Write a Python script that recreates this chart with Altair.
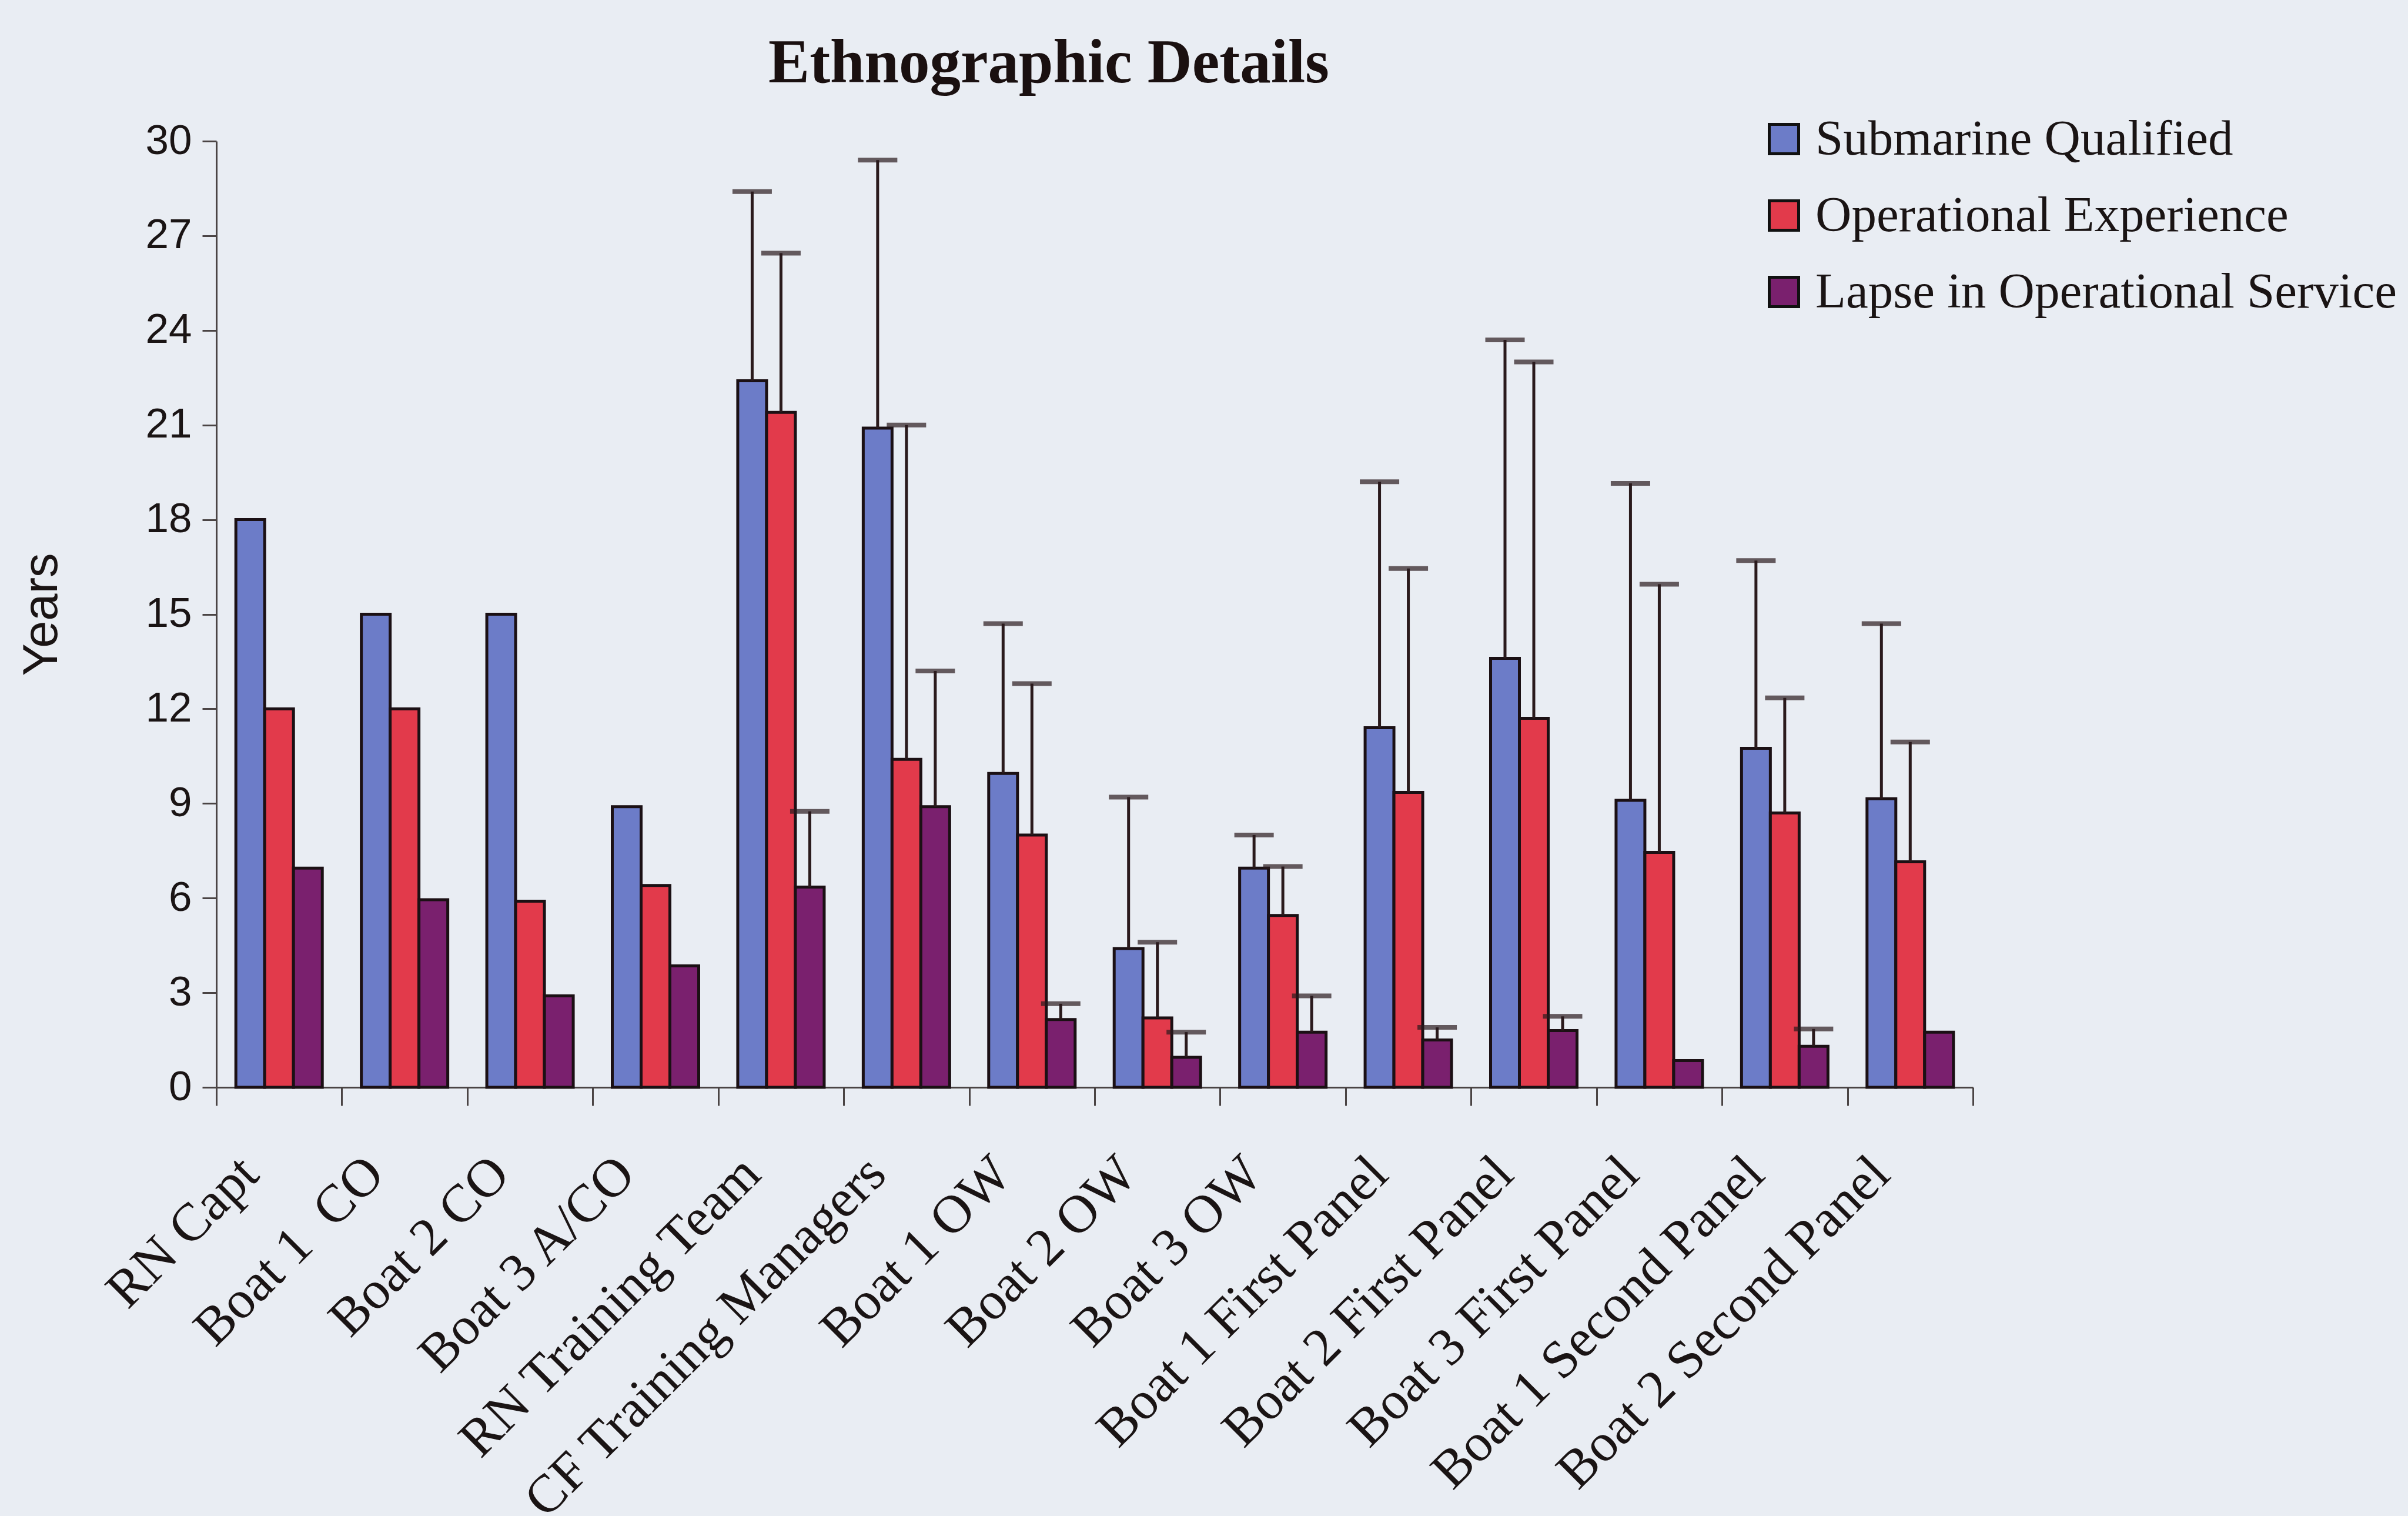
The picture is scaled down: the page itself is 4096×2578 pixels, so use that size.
import altair as alt
import pandas as pd

categories = ["RN Capt", "Boat 1\u00a0 CO", "Boat 2 CO", "Boat 3 A/CO", "RN Training Team",
              "CF Training Managers", "Boat 1 OW", "Boat 2 OW", "Boat 3 OW",
              "Boat 1 First Panel", "Boat 2 First Panel", "Boat 3 First Panel",
              "Boat 1 Second Panel", "Boat 2 Second Panel"]
series_names = ["Submarine Qualified", "Operational Experience", "Lapse in Operational Service"]
series_colors = ["#6C7CC8", "#E23A4B", "#7A206E"]

submarine = [18, 15, 15, 8.9, 22.4, 20.9, 9.95, 4.4, 6.95, 11.4, 13.6, 9.1, 10.75, 9.15]
submarine_top = [None, None, None, None, 28.4, 29.4, 14.7, 9.2, 8.0, 19.2, 23.7, 19.15, 16.7, 14.7]
operational = [12, 12, 5.9, 6.4, 21.4, 10.4, 8.0, 2.2, 5.45, 9.35, 11.7, 7.45, 8.7, 7.15]
operational_top = [None, None, None, None, 26.45, 21.0, 12.8, 4.6, 7.0, 16.45, 23.0, 15.95, 12.35, 10.95]
lapse = [6.95, 5.95, 2.9, 3.85, 6.35, 8.9, 2.15, 0.95, 1.75, 1.5, 1.8, 0.85, 1.3, 1.75]
lapse_top = [None, None, None, None, 8.75, 13.2, 2.65, 1.75, 2.9, 1.9, 2.25, None, 1.85, None]

rows = []
for name, vals, tops in zip(series_names, [submarine, operational, lapse],
                            [submarine_top, operational_top, lapse_top]):
    for c, v, t in zip(categories, vals, tops):
        rows.append({"category": c, "series": name, "value": v, "top": t})
df = pd.DataFrame(rows)
err = df.dropna(subset=["top"])

W, H = 2988, 1609
step = W / 14.0
bar_w = 49.0
p_out = (step / bar_w - 3) / 2

x_enc = alt.X("category:N", sort=categories,
              scale=alt.Scale(paddingInner=0, paddingOuter=0),
              axis=alt.Axis(title=None, labelAngle=-45, labelAlign="right",
                            labelBaseline="alphabetic", labelFont="Liberation Serif",
                            labelFontSize=91, labelColor="#1a1414", labelPadding=121,
                            labelOffset=-31,
                            labelLimit=3000, labelOverlap=False, labelFlush=False,
                            tickBand="extent", tickSize=31, tickWidth=3, tickColor="#4a4444",
                            domainColor="#4a4444", domainWidth=3, grid=False))
xo_enc = alt.XOffset("series:N", sort=series_names,
                     scale=alt.Scale(paddingInner=0, paddingOuter=p_out))
color_enc = alt.Color("series:N", sort=series_names,
                      scale=alt.Scale(domain=series_names, range=series_colors),
                      legend=alt.Legend(title=None, orient="none", legendX=2624, legendY=-46,
                                        symbolType="square", symbolSize=2500,
                                        symbolStrokeColor="#111111", symbolStrokeWidth=5,
                                        labelFont="Liberation Serif", labelFontSize=85,
                                        labelColor="#1a1414", labelOffset=11,
                                        rowPadding=44, labelLimit=3000))
y_scale = alt.Scale(domain=[0, 30], nice=False, zero=True)
y_axis = alt.Axis(title="Years", values=list(range(0, 31, 3)), labelFont="Liberation Sans",
                  labelFontSize=71, labelColor="#1a1414", labelPadding=18, tickSize=24,
                  tickWidth=3, tickColor="#4a4444", domainColor="#4a4444", domainWidth=3,
                  grid=False, titleFont="Liberation Sans", titleFontSize=83,
                  titleFontWeight="normal", titleColor="#1a1414", titleX=-272, titleY=H / 2,
                  titleAngle=-90, titleAlign="center", titleBaseline="alphabetic")

bars = alt.Chart(df).mark_bar(stroke="#1b1014", strokeWidth=5).encode(
    x=x_enc, xOffset=xo_enc,
    y=alt.Y("value:Q", scale=y_scale, axis=y_axis),
    color=color_enc,
)

rules = alt.Chart(err).mark_rule(color="#2a1a1c", strokeWidth=5).encode(
    x=alt.X("category:N", sort=categories), xOffset=alt.XOffset("series:N", sort=series_names),
    y=alt.Y("value:Q"), y2="top:Q",
)
caps = alt.Chart(err).mark_tick(color="#2a1a1c", orient="horizontal", size=67, thickness=8).encode(
    x=alt.X("category:N", sort=categories), xOffset=alt.XOffset("series:N", sort=series_names),
    y=alt.Y("top:Q"),
)

chart = alt.layer(bars, rules, caps).properties(
    width=W, height=H,
    title=alt.TitleParams("Ethnographic Details", font="Liberation Serif", fontSize=105,
                          fontWeight="bold", color="#1a1010", anchor="middle", frame="group",
                          dx=-78, offset=-51, baseline="alphabetic"),
    autosize=alt.AutoSizeParams(type="none"),
    padding={"left": 368, "top": 240, "right": 4096 - 368 - W, "bottom": 2578 - 240 - H},
    background="#E9EDF3",
).configure_view(stroke=None)

chart.save("out.html", embed_options={"renderer": "svg", "actions": False})
